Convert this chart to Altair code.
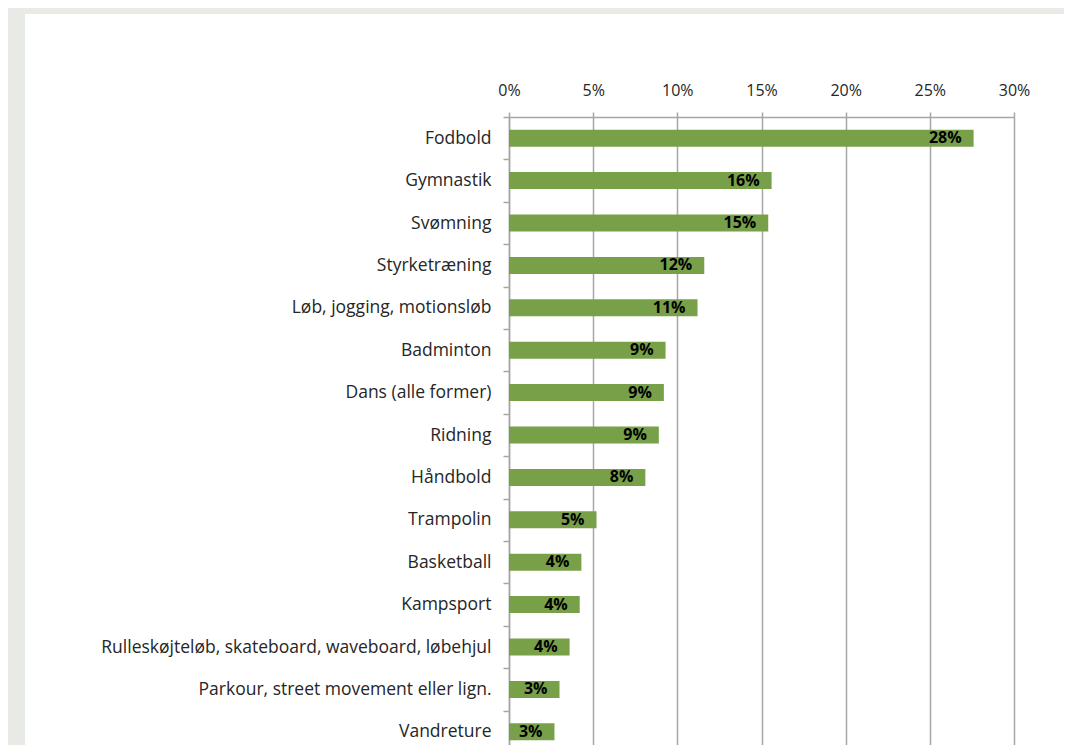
import altair as alt
import pandas as pd

categories = [
    "Fodbold", "Gymnastik", "Svømning", "Styrketræning", "Løb, jogging, motionsløb",
    "Badminton", "Dans (alle former)", "Ridning", "Håndbold", "Trampolin",
    "Basketball", "Kampsport", "Rulleskøjteløb, skateboard, waveboard, løbehjul",
    "Parkour, street movement eller lign.", "Vandreture",
]
values = [27.6, 15.6, 15.4, 11.6, 11.2, 9.3, 9.2, 8.9, 8.1, 5.2, 4.3, 4.2, 3.6, 3.0, 2.7]
tick_values = [0, 5, 10, 15, 20, 25, 30]

df = pd.DataFrame({"cat": categories, "val": [v / 100 for v in values]})

FONT = "Open Sans"
GRID = "#a6a6a6"
GREEN = "#78a048"
BG = "#e8eae6"
HALF_STEP = 636 / 15 / 2

one = pd.DataFrame({"a": [0]})
strip_left = alt.Chart(one).mark_rect(color=BG, clip=False).encode(
    x=alt.value(-501), x2=alt.value(-484), y=alt.value(-109), y2=alt.value(700)
)
strip_top = alt.Chart(one).mark_rect(color=BG, clip=False).encode(
    x=alt.value(-501), x2=alt.value(600), y=alt.value(-109), y2=alt.value(-103)
)

y_enc = alt.Y(
    "cat:N", sort=categories, title=None,
    scale=alt.Scale(paddingInner=0.6, paddingOuter=0.3),
    axis=alt.Axis(
        tickOffset=-HALF_STEP, labelOffset=HALF_STEP,
        tickSize=6, tickColor=GRID, domainColor=GRID, domainWidth=1.5,
        tickWidth=1.5, labelFontSize=17.5, labelPadding=12, labelLimit=0,
        labelColor="#262626", labelFont=FONT,
    ),
)
x_enc = alt.X(
    "val:Q", title=None,
    scale=alt.Scale(domain=[0, 0.30], nice=False),
    axis=alt.Axis(
        orient="top", values=[t / 100 for t in tick_values], format=".0%",
        grid=True, gridColor=GRID, gridWidth=1.5, domainColor=GRID, domainWidth=1.5,
        tickColor=GRID, tickWidth=1.5, tickSize=5, labelFontSize=16, labelPadding=14,
        labelFlush=False, labelColor="#262626", labelFont=FONT,
    ),
)

bars = alt.Chart(df).mark_bar(color=GREEN).encode(y=y_enc, x=x_enc)
text = alt.Chart(df).mark_text(
    align="right", dx=-12, fontWeight="bold", fontSize=16, font=FONT, color="black", baseline="middle"
).encode(y=alt.Y("cat:N", sort=categories), x="val:Q", text=alt.Text("val:Q", format=".0%"))

chart = alt.layer(strip_left, strip_top, bars, text).properties(
    width=505, height=636,
    autosize=alt.AutoSizeParams(type="none"),
    padding={"left": 501, "top": 109, "right": 50, "bottom": 0},
    background="white",
).configure_view(stroke=None)

chart.save("out.html", embed_options={"renderer": "svg", "actions": False})
